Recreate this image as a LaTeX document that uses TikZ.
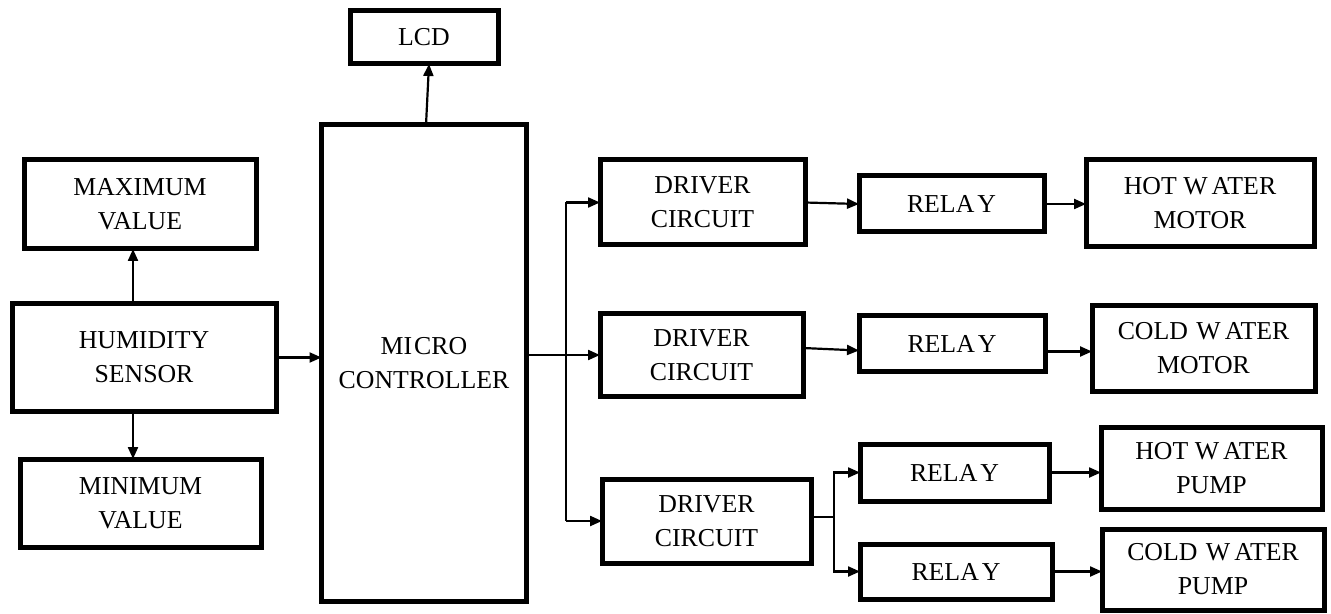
\documentclass[tikz,border=0pt]{standalone}
\usepackage{fontspec}
\setmainfont{Liberation Serif}
\usetikzlibrary{arrows.meta,calc}
\begin{document}
\begin{tikzpicture}[x=0.5pt,y=-0.5pt,
  blk/.style={draw, line width=2.5pt, inner sep=0pt, outer sep=0pt, align=center,
              font=\fontsize{12.9}{17}\selectfont},
  arr/.style={line width=1.1pt, -{Triangle[length=6pt,width=5pt]}},
  ln/.style={line width=1.1pt}]
\useasboundingbox (0,0) rectangle (1331,614);

\node[blk, minimum width=74pt, minimum height=26.5pt] (lcd) at (424,37.5) {LCD};
\node[blk, minimum width=102.5pt, minimum height=238pt] (mc) at (424,363) {MI\kern1pt CRO\\CONTROLLER};
\node[blk, minimum width=116pt, minimum height=44.5pt] (max) at (140,204.5) {MAXIMUM\\VALUE};
\node[blk, minimum width=132pt, minimum height=53.5pt] (hum) at (144,357.5) {HUMIDITY\\SENSOR};
\node[blk, minimum width=120.5pt, minimum height=44pt] (min) at (140.5,503) {MINIMUM\\VALUE};

\node[blk, minimum width=102.5pt, minimum height=42.5pt] (d1) at (702.5,202.5) {DRIVER\\CIRCUIT};
\node[blk, minimum width=101.5pt, minimum height=41pt] (d2) at (701.5,355) {DRIVER\\CIRCUIT};
\node[blk, minimum width=104.5pt, minimum height=42pt] (d3) at (706.5,521) {DRIVER\\CIRCUIT};

\node[blk, minimum width=92.5pt, minimum height=28pt] (r1) at (951.5,204) {RELA\kern1.5pt Y};
\node[blk, minimum width=93pt, minimum height=28pt] (r2) at (952,343.5) {RELA\kern1.5pt Y};
\node[blk, minimum width=94.5pt, minimum height=28.5pt] (r3) at (954.5,472.5) {RELA\kern1.5pt Y};
\node[blk, minimum width=96pt, minimum height=27.5pt] (r4) at (956,571.5) {RELA\kern1.5pt Y};

\node[blk, minimum width=114pt, minimum height=43.5pt] (hwm) at (1200,203.5) {HOT W\kern2pt ATER\\MOTOR};
\node[blk, minimum width=111.5pt, minimum height=42.5pt] (cwm) at (1203.5,348.5) {COLD\kern1pt\ W\kern2pt ATER\\MOTOR};
\node[blk, minimum width=110.5pt, minimum height=41pt] (hwp) at (1211.5,468) {HOT W\kern2pt ATER\\PUMP};
\node[blk, minimum width=111pt, minimum height=40.5pt] (cwp) at (1213,569.5) {COLD\kern1pt\ W\kern2pt ATER\\PUMP};

% left side
\coordinate (cx) at (133,0);
\draw[arr] (hum.north -| cx) -- (max.south -| cx);
\draw[arr] (hum.south -| cx) -- (min.north -| cx);
\draw[arr] (hum.east) -- (hum.east -| mc.west);
% LCD
\draw[arr] ($(mc.north)+(2,0)$) -- ($(lcd.south)+(5,0)$);
% bus to drivers
\coordinate (bus) at (566,0);
\draw[arr] (d2.west -| mc.east) -- (d2.west);
\draw[ln] (bus |- d1.west) -- (bus |- d3.west);
\draw[arr] (bus |- d1.west) -- (d1.west);
\draw[arr] (bus |- d3.west) -- (d3.west);
% drivers to relays
\draw[arr] (d1.east) -- (r1.west);
\draw[arr] ($(d2.east)+(0,-7)$) -- ($(r2.west)+(0,7)$);
\coordinate (sp) at ($(d3.east)+(23,-4)$);
\draw[ln] (d3.east |- sp) -- (sp);
\draw[arr] (sp) |- (r3.west);
\draw[arr] (sp) |- (r4.west);
% relays to loads
\draw[arr] (r1.east) -- (r1.east -| hwm.west);
\coordinate (p2) at ($(r2.east)+(0,8)$);
\draw[arr] (p2) -- (p2 -| cwm.west);
\draw[arr] (r3.east) -- (r3.east -| hwp.west);
\draw[arr] (r4.east) -- (r4.east -| cwp.west);
\end{tikzpicture}
\end{document}
